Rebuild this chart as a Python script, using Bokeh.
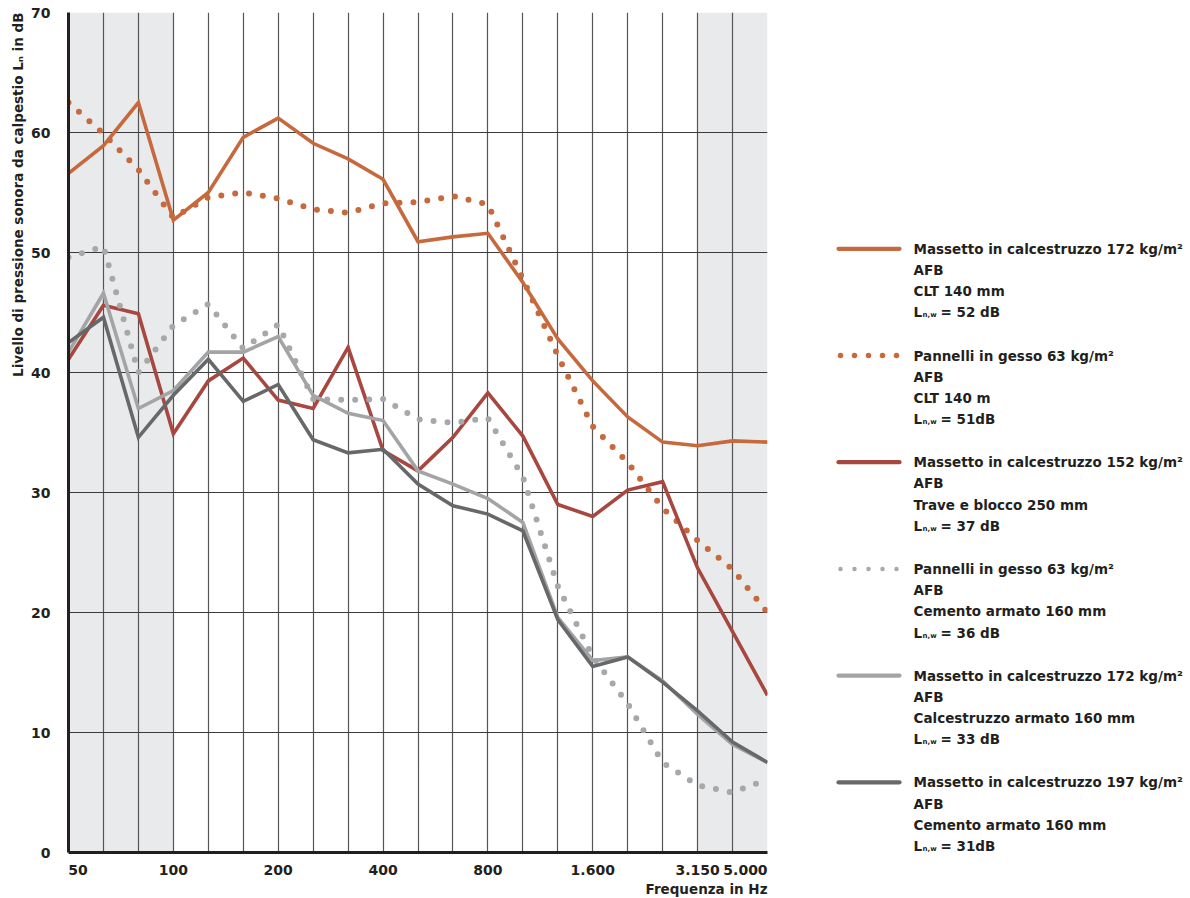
from bokeh.plotting import figure
from bokeh.models import Range1d, FixedTicker, BoxAnnotation, Title, ColumnDataSource
from bokeh.layouts import row
from bokeh.core.properties import value
from bokeh.embed import file_html
from bokeh.resources import INLINE

FONT = "DejaVu Sans"
INK = "#231F20"

# ---------------- data ----------------
freqs = [50, 63, 80, 100, 125, 160, 200, 250, 315, 400, 500, 630, 800,
         1000, 1250, 1600, 2000, 2500, 3150, 4000, 5000]

clt_massetto_172 = [56.6, 58.9, 62.5, 52.7, 55.0, 59.6, 61.2, 59.1, 57.8, 56.1, 50.9,
                    51.3, 51.6, 47.5, 42.8, 39.3, 36.3, 34.2, 33.9, 34.3, 34.2]
clt_gesso_63 = [62.5, 59.9, 56.9, 52.9, 54.6, 55.0, 54.5, 53.6, 53.3, 54.1, 54.2,
                54.7, 54.0, 47.8, 41.4, 35.5, 32.5, 28.7, 26.0, 23.6, 20.0]
trave_massetto_152 = [41.1, 45.6, 44.9, 34.9, 39.3, 41.2, 37.7, 37.0, 42.1, 33.5, 31.8,
                      34.6, 38.3, 34.7, 29.0, 28.0, 30.2, 30.9, 23.7, 18.4, 13.1]
ca_gesso_63 = [49.6, 50.5, 40.0, 43.9, 45.7, 42.0, 44.0, 37.8, 37.7, 37.8, 36.1,
               35.8, 36.2, 31.3, 22.2, 16.3, 12.4, 7.5, 5.6, 5.0, 6.1]
ca_massetto_172 = [41.7, 46.6, 37.0, 38.5, 41.7, 41.7, 43.0, 38.1, 36.6, 36.0, 31.8,
                   30.7, 29.5, 27.5, 19.6, 16.0, 16.3, 14.3, 11.5, 9.0, 7.5]
ca_massetto_197 = [42.5, 44.6, 34.6, 38.1, 41.1, 37.6, 39.0, 34.4, 33.3, 33.6, 30.7,
                   28.9, 28.2, 26.8, 19.4, 15.5, 16.3, 14.2, 11.8, 9.2, 7.5]

x_label_freqs = [50, 100, 200, 400, 800, 1600, 3150, 5000]
x_label_texts = ["50", "100", "200", "400", "800", "1.600", "3.150", "5.000"]
y_ticks = [0, 10, 20, 30, 40, 50, 60, 70]

legend_texts = [
    ["Massetto in calcestruzzo 172 kg/m²", "AFB", "CLT 140 mm", "= 52 dB"],
    ["Pannelli in gesso 63 kg/m²", "AFB", "CLT 140 m", "= 51dB"],
    ["Massetto in calcestruzzo 152 kg/m²", "AFB", "Trave e blocco 250 mm", "= 37 dB"],
    ["Pannelli in gesso 63 kg/m²", "AFB", "Cemento armato 160 mm", "= 36 dB"],
    ["Massetto in calcestruzzo 172 kg/m²", "AFB", "Calcestruzzo armato 160 mm", "= 33 dB"],
    ["Massetto in calcestruzzo 197 kg/m²", "AFB", "Cemento armato 160 mm", "= 31dB"],
]

# ---------------- styles ----------------
ORANGE = "#C6693C"
RED = "#A8473F"
LGREY = "#A3A4A6"
DOTGREY = "#A7A8AA"
DGREY = "#67686A"

series = [
    (clt_massetto_172, ORANGE, "solid"),
    (clt_gesso_63, ORANGE, "dots"),
    (trave_massetto_152, RED, "solid"),
    (ca_gesso_63, DOTGREY, "dots"),
    (ca_massetto_172, LGREY, "solid"),
    (ca_massetto_197, DGREY, "solid"),
]

idx = list(range(len(freqs)))

H = 897
p = figure(width=778, height=H, x_range=Range1d(0, len(freqs) - 1), y_range=Range1d(0, 70),
           output_backend="svg", toolbar_location=None,
           min_border_left=68, min_border_right=11, min_border_top=12, min_border_bottom=45)
p.outline_line_color = None
p.background_fill_color = "white"
p.border_fill_color = "white"

# shaded bands (outside the weighted range)
for lo, hi in [(50, 100), (3150, 5000)]:
    p.add_layout(BoxAnnotation(left=freqs.index(lo), right=freqs.index(hi),
                               fill_color="#E9EAEC", fill_alpha=1.0,
                               line_alpha=0, level="image"))

# axes
nudge = {50: 0.27, 5000: -0.63}
x_pos = [freqs.index(f) + nudge.get(f, 0) for f in x_label_freqs]
p.xaxis.ticker = FixedTicker(ticks=x_pos)
p.xaxis.major_label_overrides = {pos: t for pos, t in zip(x_pos, x_label_texts)}
p.yaxis.ticker = FixedTicker(ticks=y_ticks)

for ax in (p.xaxis, p.yaxis):
    ax.axis_line_width = 3
    ax.axis_line_color = INK
    ax.major_tick_line_color = None
    ax.minor_tick_line_color = None
    ax.major_label_text_font = FONT
    ax.major_label_text_font_size = "14px"
    ax.major_label_text_font_style = "bold"
    ax.major_label_text_color = INK
p.xaxis.major_label_standoff = 6
p.yaxis.major_label_standoff = 12

p.xgrid.ticker = FixedTicker(ticks=idx)
p.xgrid.grid_line_color = "#555555"
p.xgrid.grid_line_width = 1.2
p.ygrid.ticker = FixedTicker(ticks=y_ticks)
p.ygrid.grid_line_color = "#3a3a3a"
p.ygrid.grid_line_width = 1.2

p.add_layout(Title(text="Frequenza in Hz", align="right", text_font=FONT,
                   text_font_size="13.5px", text_font_style="bold", text_color=INK,
                   standoff=2), "below")
p.add_layout(Title(text="Livello di pressione sonora da calpestio Lₙ in dB", align="right",
                   text_font=FONT, text_font_size="13.5px", text_font_style="bold",
                   text_color=INK, standoff=6), "left")

for vals, color, style in series:
    src = ColumnDataSource(dict(x=idx, y=vals))
    if style == "dots":
        p.line("x", "y", source=src, line_color=color, line_width=6,
               line_dash="0 14", line_cap="round")
    else:
        p.line("x", "y", source=src, line_color=color, line_width=3.6,
               line_join="miter")

# ---------------- legend panel ----------------
# the row aligns this panel's frame with the chart frame (page y 12..852)
leg = figure(width=410, height=H, x_range=Range1d(0, 410), y_range=Range1d(852, 12),
             output_backend="svg", toolbar_location=None,
             x_axis_type=None, y_axis_type=None, min_border=0)
leg.outline_line_color = None
leg.background_fill_color = "white"
leg.border_fill_color = "white"

g_top, g_step, l_step = 248.3, 106.7, 21.2
sx0, sx1, tx = 62, 119, 135
tx_rows, ty_rows, tt_rows = [], [], []
sub_x, sub_y = [], []
for k, ((vals, color, style), lines) in enumerate(zip(series, legend_texts)):
    y0 = g_top + k * g_step
    if style == "dots":
        leg.line([sx0, sx1], [y0, y0], line_color=color,
                 line_width=5.5 if color == ORANGE else 4.5,
                 line_dash="0 14", line_cap="round")
    else:
        leg.line([sx0 - 2, sx1 + 2], [y0, y0], line_color=color, line_width=4.2,
                 line_cap="round")
    for j, t in enumerate(lines[:3]):
        tx_rows.append(tx); ty_rows.append(y0 + j * l_step); tt_rows.append(t)
    yl = y0 + 3 * l_step
    tx_rows.append(tx); ty_rows.append(yl); tt_rows.append("L")
    tx_rows.append(tx + 27); ty_rows.append(yl); tt_rows.append(lines[3])
    sub_x.append(tx + 9); sub_y.append(yl + 3)

leg.text(x="x", y="y", text="t", source=ColumnDataSource(dict(x=tx_rows, y=ty_rows, t=tt_rows)),
         text_font=value(FONT), text_font_size=value("13.5px"), text_font_style="bold",
         text_color=INK, text_baseline="middle", text_align="left")
leg.text(x="x", y="y", text="t",
         source=ColumnDataSource(dict(x=sub_x, y=sub_y, t=["n,w"] * len(sub_x))),
         text_font=value(FONT), text_font_size=value("7px"), text_font_style="bold",
         text_color=INK, text_baseline="middle", text_align="left")

layout = row(p, leg)
open("out.html", "w").write(file_html(layout, INLINE))
